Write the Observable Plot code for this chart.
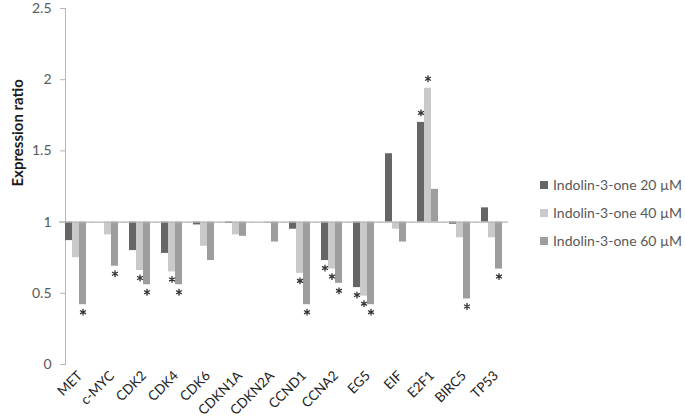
<!DOCTYPE html>
<html>
<head>
<meta charset="utf-8">
<script src="https://cdn.jsdelivr.net/npm/d3@7"></script>
<script src="https://cdn.jsdelivr.net/npm/@observablehq/plot@0.6"></script>
<style>
  html, body { margin: 0; padding: 0; background: #fff; }
  #wrap { position: relative; width: 685px; height: 420px; font-family: Lato, "Open Sans", sans-serif; }
  #legend { position: absolute; left: 540px; top: 176px; }
  .lg-swatch { padding-bottom: 11px !important; margin: 0 !important; }
  .lg-swatch svg { margin-right: 5px !important; }
</style>
</head>
<body>
<div id="wrap"><div id="chart"></div><div id="legend"></div></div>
<script>
const genes = ["MET", "c-MYC", "CDK2", "CDK4", "CDK6", "CDKN1A", "CDKN2A", "CCND1", "CCNA2", "EG5", "EIF", "E2F1", "BIRC5", "TP53"];
const series = ["Indolin-3-one 20 µM", "Indolin-3-one 40 µM", "Indolin-3-one 60 µM"];
const v20 = [0.87, 1.00, 0.80, 0.78, 0.98, 0.99, 1.00, 0.95, 0.73, 0.54, 1.48, 1.70, 0.985, 1.10];
const v40 = [0.75, 0.91, 0.66, 0.65, 0.83, 0.91, 0.99, 0.64, 0.67, 0.48, 0.95, 1.94, 0.89, 0.89];
const v60 = [0.42, 0.69, 0.56, 0.56, 0.73, 0.90, 0.86, 0.42, 0.57, 0.42, 0.86, 1.23, 0.46, 0.67];
const sig20 = [0, 0, 0, 0, 0, 0, 0, 0, 1, 1, 0, 1, 0, 0];
const sig40 = [0, 0, 1, 1, 0, 0, 0, 1, 1, 1, 0, 1, 0, 0];
const sig60 = [1, 1, 1, 1, 0, 0, 0, 1, 1, 1, 0, 0, 1, 1];
const yTicks = [0, 0.5, 1, 1.5, 2, 2.5];
const colors = ["#666666", "#c9c9c9", "#9d9d9d"];

const values = [v20, v40, v60];
const sigs = [sig20, sig40, sig60];
const data = [];
genes.forEach((g, i) => series.forEach((s, j) => data.push({gene: g, series: s, value: values[j][i], sig: sigs[j][i]})));
const stars = data.filter(d => d.sig);
const starsDown = stars.filter(d => d.value < 1);
const starsUp = stars.filter(d => d.value >= 1);

const W = 685, ML = 55, MR = 172;
const padInner = 0.34, padOuter = padInner / 2;
const step = (W - ML - MR) / (genes.length - padInner + 2 * padOuter);
const halfGap = step * padOuter; // extends the baseline over gaps between facets

const font = "Lato, 'Open Sans', sans-serif";
const chart = Plot.plot({
  width: W,
  height: 420,
  marginLeft: ML,
  marginRight: MR,
  marginTop: 8,
  marginBottom: 56,
  style: {fontFamily: font, fontSize: "13px", color: "#595959", background: "#fff"},
  fx: {domain: genes, paddingInner: padInner, paddingOuter: padOuter, label: null},
  x: {domain: series, padding: 0, axis: null},
  y: {domain: [0, 2.5]},
  color: {domain: series, range: colors},
  marks: [
    Plot.frame({anchor: "left", facet: "super", stroke: "#b5b5b5"}),
    Plot.barY(data, {fx: "gene", x: "series", y1: 1, y2: "value", fill: "series"}),
    Plot.ruleY([1], {stroke: "#b5b5b5", strokeWidth: 1.3, insetLeft: -halfGap - 0.5, insetRight: -halfGap - 0.5}),
    Plot.axisY({ticks: yTicks, tickFormat: d => String(d), tickSize: 5, tickPadding: 9, stroke: "#b5b5b5", fill: "#595959", fontSize: 14, label: null}),
    Plot.axisFx({anchor: "bottom", tickRotate: -45, tickSize: 0, tickPadding: 9, fill: "#222", fontSize: 13.5, label: null, dx: 4}),
    Plot.dot(starsDown, {fx: "gene", x: "series", y: "value", symbol: "asterisk", r: 3.2, dy: 7.5, stroke: "#333", strokeWidth: 1.3}),
    Plot.dot(starsUp, {fx: "gene", x: "series", y: "value", symbol: "asterisk", r: 3.2, dy: -9.5, stroke: "#333", strokeWidth: 1.3}),
    Plot.text(["Expression ratio"], {frameAnchor: "left", rotate: -90, dx: -47, facet: "super", fontWeight: "bold", fontSize: 15, fill: "#1a1a1a"})
  ]
});
document.getElementById("chart").appendChild(chart);
const lg = Plot.legend({color: {domain: series, range: colors}, columns: 1, swatchSize: 8, className: "lg", style: {fontFamily: font, fontSize: "14px", color: "#595959"}});
document.getElementById("legend").appendChild(lg);
</script>
</body>
</html>
